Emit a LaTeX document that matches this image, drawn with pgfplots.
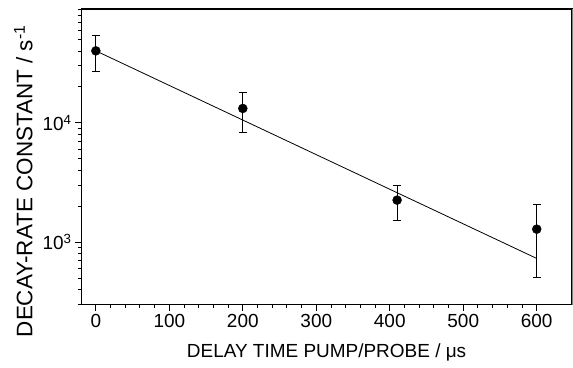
\documentclass[border=0pt]{standalone}
\usepackage{pgfplots}
\pgfplotsset{compat=1.18}
\usepackage{fontspec}
\setmainfont{Liberation Sans}
\begin{document}
\begin{tikzpicture}
\begin{axis}[
  name=ax,
  scale only axis,
  width=490bp, height=295bp,
  xmin=-20, xmax=648,
  ymode=log, ymin=300, ymax=90000,
  xtick={0,100,...,600},
  minor x tick num=4,
  ytick={1000,10000},
  yticklabels={10\textsuperscript{3},10\textsuperscript{4}},
  minor ytick={300,400,500,600,700,800,900,2000,3000,4000,5000,6000,7000,8000,9000,20000,30000,40000,50000,60000,70000,80000,90000},
  xtick pos=left, ytick pos=left,
  tick align=outside,
  major tick length=6bp, minor tick length=3.5bp,
  tick style={black, line width=0.9bp},
  axis line style={line width=1.2bp},
  /pgf/number format/assume math mode=true,
  tick label style={font=\fontsize{19}{22}\selectfont},
  xlabel={DELAY TIME PUMP/PROBE / μs},
  ylabel={DECAY-RATE CONSTANT / s\textsuperscript{-1}},
  xlabel style={font=\fontsize{19}{22}\selectfont, at={(rel axis cs:0.5,0)}, anchor=north, yshift=-36bp},
  ylabel style={font=\fontsize{22.5}{26}\selectfont, at={(rel axis cs:0,0.417)}, anchor=south, yshift=45bp},
  clip=false,
]
\addplot[black, line width=0.8bp, no marks] coordinates {(0,40130) (600,730)};
\addplot[black, only marks, mark=*, mark size=4.5bp,
  error bars/.cd, y dir=both, y explicit,
  error bar style={line width=0.8bp, black},
  error mark options={rotate=90, mark size=3.8bp, line width=0.8bp, black}]
  table[x=x, y=y, y error plus=ep, y error minus=em] {
x y ep em
0 40130 13970 13370
200 13200 4790 4890
410 2250 756 723
600 1285 785 776
};
\end{axis}
\draw[gray, line width=1bp] (ax.south east) -- (ax.north east);
\pgfresetboundingbox
\path ([shift={(-81bp,-63bp)}]ax.south west) rectangle ([shift={(1bp,9bp)}]ax.north east);
\end{tikzpicture}
\end{document}
